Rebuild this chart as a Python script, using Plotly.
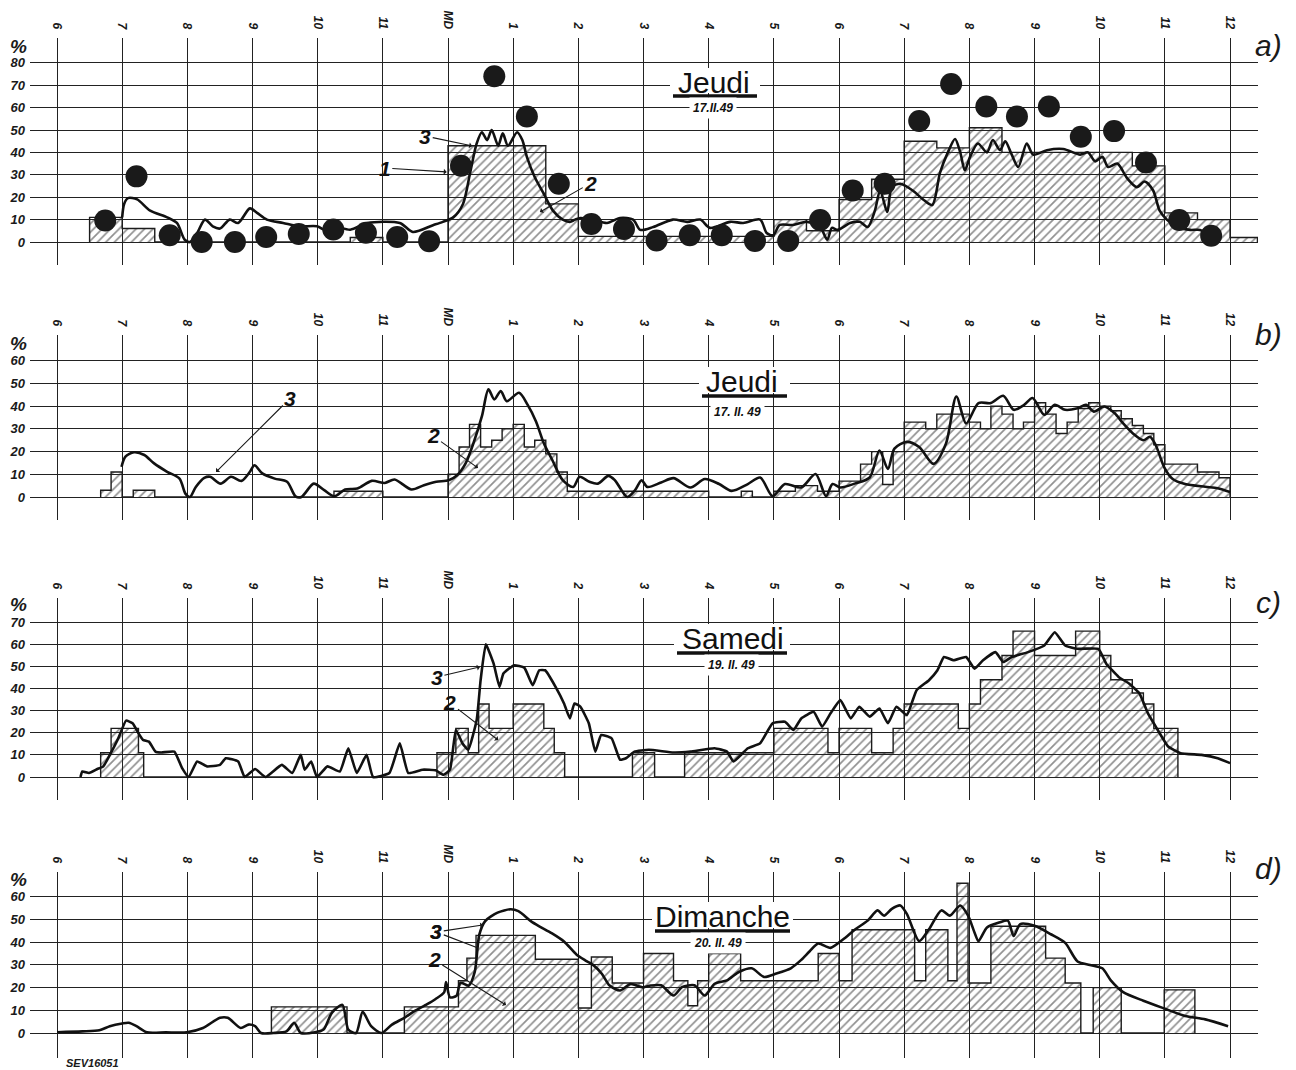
import plotly.graph_objects as go

# page body adds an 8px margin; the figure is sized/positioned to compensate
OFF = 8
W, H = 1296 - OFF, 1070 - OFF
SANS = "Liberation Sans, Arial, sans-serif"

# ---------------- shared axis data ----------------
HOURS = list(range(6, 25))
HOUR_LABELS = ["6", "7", "8", "9", "10", "11", "MD", "1", "2", "3", "4", "5",
               "6", "7", "8", "9", "10", "11", "12"]

# ---------------- panel a : Jeudi 17.II.49 ----------------
a_dot_t = [6.74, 7.22, 7.73, 8.22, 8.73, 9.21, 9.71, 10.24, 10.74, 11.22, 11.71,
           12.20, 12.71, 13.21, 13.70, 14.20, 14.70, 15.20, 15.71, 16.20, 16.71,
           17.22, 17.71, 18.21, 18.70, 19.23, 19.72, 20.26, 20.73, 21.22, 21.71,
           22.22, 22.71, 23.22, 23.71]
a_dot_v = [9.6, 29.3, 3, 0, 0, 2.2, 3.6, 5.6, 4.1, 2.2, 0.3,
           34, 74, 56, 26, 8, 5.8, 0.7, 3, 3, 0.5,
           0.5, 9.8, 23, 26, 54, 70.5, 60.5, 56, 60.5, 47,
           49.5, 35.5, 9.8, 2.8]

a_hist_edges = [6.5, 7.0, 7.5, 10.5, 11.0, 12.0, 13.5, 14.0, 17.0, 17.5, 18.0,
                18.5, 19.0, 19.5, 20.0, 20.5, 22.5, 23.0, 23.5, 24.0, 24.42]
a_hist_vals = [11, 6, 0, 2, 0, 43, 17, 2.5, 10, 5, 19,
               28, 45, 42, 51, 40, 34, 13, 10, 2]

a_curve_t = [7.00, 7.03, 7.09, 7.23, 7.43, 7.69, 7.84, 7.96, 8.04, 8.15, 8.27, 8.39,
             8.50, 8.65, 8.78, 8.96, 9.07, 9.22, 9.47, 9.73, 9.99, 10.14, 10.24,
             10.50, 10.76, 11.26, 11.46, 11.77, 11.92, 12.08, 12.23, 12.34, 12.44,
             12.52, 12.60, 12.67, 12.77, 12.84, 12.92, 13.06, 13.14, 13.21, 13.33,
             13.46, 13.61, 13.76, 13.87, 13.95, 14.03, 14.22, 14.44, 14.64, 14.84,
             14.95, 15.15, 15.45, 15.67, 15.87, 16.02, 16.33, 16.53, 16.79, 16.89,
             16.99, 17.09, 17.29, 17.51, 17.71, 17.82, 17.89, 17.98, 18.17, 18.32,
             18.44, 18.55, 18.63, 18.74, 18.81, 18.94, 19.13, 19.29, 19.43, 19.55,
             19.67, 19.78, 19.86, 19.93, 20.01, 20.13, 20.27, 20.36, 20.47, 20.55,
             20.65, 20.75, 20.88, 20.98, 21.19, 21.44, 21.70, 21.82, 21.93, 22.04,
             22.13, 22.27, 22.42, 22.57, 22.69, 22.82, 22.92, 23.03, 23.19, 23.39,
             23.54, 23.69, 23.85]
a_curve_v = [11, 17, 19.6, 19, 14, 11, 8.5, 1, 0, 4, 10, 7,
             6, 10, 8.5, 15, 13, 10, 8.5, 7, 7, 5, 7,
             5.5, 8.5, 8.5, 4.5, 7.5, 9, 11, 17, 31, 44,
             49, 45.5, 50, 43, 48.5, 43, 49, 45.5, 38, 29,
             22, 14, 10, 9, 10, 10.7, 10, 8.5, 10.7, 10,
             5.4, 6.7, 10, 9, 10, 6.3, 9, 8.5, 10, 4,
             3, 7.6, 7.6, 9, 6.7, 1, 6.3, 5.4, 8.5, 9,
             6.7, 14, 23, 13.4, 24.5, 26, 23, 19, 16.5, 31,
             40, 46, 40, 32, 38, 44, 40, 45.5, 41, 45,
             39, 33.5, 44, 39, 41, 41.5, 39, 40, 36, 38,
             33.5, 35, 28.5, 24.5, 27, 23, 14, 10, 6.7, 5.4,
             5.4, 3, 1.8]

# ---------------- panel b : Jeudi 17.II.49 ----------------
b_hist_edges = [6.67, 6.83, 7.0, 7.17, 7.5, 10.25, 11.0, 12.0, 12.17, 12.33, 12.5,
                12.67, 12.83, 13.0, 13.17, 13.33, 13.5, 13.67, 13.83, 16.0, 16.5,
                16.67, 17.0, 17.33, 17.67, 18.0, 18.33, 18.5, 18.67, 18.83, 19.0,
                19.33, 19.5, 20.0, 20.17, 20.33, 20.5, 20.67, 20.83, 21.0, 21.17,
                21.33, 21.5, 21.67, 21.83, 22.0, 22.17, 22.33, 22.5, 22.67, 22.83,
                23.0, 23.5, 23.83, 24.0]
b_hist_vals = [3, 11, 0, 3, 0, 2.5, 0, 10, 22, 32,
               22, 25, 30, 32, 22, 25, 19, 11, 2.5, 0,
               2.5, 0, 2.5, 5, 2.5, 7, 14.5, 20, 5.5, 20,
               33, 30, 36.5, 33, 30, 40, 36.5, 30, 33, 41.5,
               36.5, 28, 33, 39, 41.5, 40, 38, 34.5, 31.5, 28,
               23, 14.5, 11, 8.5]

b_curve_t = [6.99, 7.05, 7.18, 7.34, 7.49, 7.69, 7.88, 7.97, 8.04, 8.13, 8.26, 8.35,
             8.51, 8.67, 8.83, 8.96, 9.03, 9.15, 9.34, 9.53, 9.66, 9.75, 9.94, 10.10,
             10.26, 10.42, 10.61, 10.83, 11.03, 11.18, 11.44, 11.63, 11.82, 12.01,
             12.14, 12.27, 12.39, 12.52, 12.62, 12.71, 12.81, 12.90, 13.09, 13.22,
             13.35, 13.47, 13.60, 13.76, 13.92, 14.02, 14.17, 14.30, 14.46, 14.56,
             14.75, 14.87, 14.97, 15.06, 15.27, 15.46, 15.72, 15.94, 16.16, 16.35,
             16.60, 16.79, 16.98, 17.17, 17.42, 17.64, 17.80, 17.90, 18.02, 18.25,
             18.47, 18.62, 18.75, 18.85, 19.04, 19.23, 19.45, 19.64, 19.80, 19.95,
             20.14, 20.33, 20.52, 20.68, 20.84, 20.97, 21.15, 21.31, 21.47, 21.66,
             21.79, 21.91, 22.07, 22.23, 22.36, 22.51, 22.67, 22.77, 22.86, 22.99,
             23.12, 23.31, 23.62, 23.81, 24.00]
b_curve_v = [13.3, 17.8, 19.7, 18.5, 14.8, 11.1, 8.1, 1.5, 0, 4.4, 8.4, 8.9,
             5.9, 8.9, 7.1, 11.1, 14, 10.4, 8.1, 6.7, 0.3, 0, 5.9, 3,
             0.3, 3.3, 3.7, 7.1, 6.2, 7.7, 3.3, 5.2, 6.7, 7.4,
             9.6, 14.8, 23.7, 35.6, 47.4, 43, 46.7, 42.2, 45.9, 40.7,
             33.3, 23.7, 16.3, 7.4, 4.4, 8.9, 6.7, 5.9, 9.3, 7.4,
             0, 3, 7.4, 4.4, 6.4, 8.3, 4.2, 7.9, 5.7, 2.7,
             5.7, 8.6, 0.4, 5.7, 4.2, 10.1, 0.4, 5.7, 4.2, 6,
             8.6, 20.5, 12.4, 21.3, 24.3, 22, 14.6, 23.5, 44.3, 32.4,
             41.4, 41.4, 44.6, 38.4, 40.6, 43.6, 36.2, 40.6, 38.4, 39.1,
             40.6, 37.6, 39.9, 36.9, 32.4, 28, 25, 26.5, 22.8, 13.1,
             7.9, 5.7, 4.5, 3.9, 2.2]

# ---------------- panel c : Samedi 19.II.49 ----------------
c_hist_edges = [6.67, 6.83, 7.25, 7.33, 11.83, 12.12, 12.31, 12.47, 12.63, 13.0,
                13.47, 13.63, 13.79, 14.83, 15.17, 15.63, 17.0, 17.83, 18.0, 18.5,
                18.83, 19.0, 19.83, 20.0, 20.17, 20.5, 20.67, 21.0, 21.63, 22.0,
                22.17, 22.5, 22.67, 22.83, 23.2]
c_hist_vals = [11, 22, 11, 0, 11, 22, 11, 33, 22, 33,
               22, 11, 0, 11, 0, 11, 22, 11, 22, 11,
               22, 33, 22, 33, 44, 55, 66, 55, 66, 55,
               44, 38, 33, 22]

c_curve_t = [6.36, 6.39, 6.49, 6.62, 6.71, 6.81, 6.94, 7.06, 7.16, 7.25, 7.32, 7.41,
             7.51, 7.60, 7.80, 7.92, 8.02, 8.15, 8.30, 8.50, 8.59, 8.78, 8.88, 9.04,
             9.20, 9.45, 9.61, 9.74, 9.80, 9.90, 9.99, 10.15, 10.34, 10.47, 10.60,
             10.75, 10.85, 11.10, 11.26, 11.39, 11.61, 11.81, 11.93, 12.03, 12.12,
             12.22, 12.31, 12.44, 12.50, 12.58, 12.70, 12.79, 12.85, 13.01, 13.17,
             13.30, 13.40, 13.49, 13.65, 13.78, 13.87, 13.94, 14.03, 14.16, 14.26,
             14.35, 14.51, 14.64, 14.73, 14.86, 15.08, 15.46, 15.72, 16.09, 16.28,
             16.38, 16.60, 16.79, 16.98, 17.17, 17.30, 17.42, 17.61, 17.74, 17.87,
             18.02, 18.18, 18.31, 18.47, 18.62, 18.75, 18.88, 19.04, 19.19, 19.38,
             19.51, 19.61, 19.76, 19.95, 20.08, 20.21, 20.40, 20.52, 20.65, 20.90,
             21.15, 21.31, 21.47, 21.66, 21.98, 22.10, 22.29, 22.45, 22.61, 22.74,
             22.86, 23.05, 23.24, 23.56, 23.81, 24.00]
c_curve_v = [0, 2.5, 1.8, 3.6, 4.8, 10, 17.5, 25.5, 24.3, 19.8, 16.8, 16,
             11.5, 11.1, 11.5, 4, 0, 7, 4.8, 5.5, 8.5, 7, 0, 3.6,
             0, 5.5, 1.8, 10, 3.3, 7, 0, 4.8, 2.5, 13, 1.8,
             10, 0, 1.8, 15.3, 1.8, 3.3, 3, 1, 3.3, 21.3,
             15.3, 12.3, 25.8, 43.8, 60, 51.3, 40.8, 46.8, 50.5, 49.5,
             41.5, 48.3, 48.3, 40.8, 33.3, 26.5, 33.3, 31.8, 24.3, 11.5,
             19, 17.5, 7.8, 8.5, 11.5, 12.3, 11.1, 11.5, 13, 11.5,
             7, 13, 15.3, 24.3, 25, 21.3, 26.5, 29.5, 22.8, 28.8,
             34.8, 26.5, 31.8, 27.3, 31, 24.3, 31.8, 28, 39.3, 43.8,
             48.3, 54.3, 52.8, 54.3, 49, 52.8, 56.5, 52, 54.3, 56.5,
             59.5, 65.5, 59.5, 58, 58, 51.3, 45.3, 42.3, 37.8, 28.8,
             22.8, 13.8, 10.8, 10, 8.5, 6.3]

# ---------------- panel d : Dimanche 20.II.49 ----------------
d_hist_edges = [9.29, 10.45, 11.33, 12.16, 12.29, 12.43, 13.34, 14.0, 14.2, 14.52,
                15.0, 15.46, 15.68, 15.83, 16.0, 16.49, 17.68, 18.0, 18.2, 19.16,
                19.33, 19.67, 19.81, 19.98, 20.33, 21.17, 21.47, 21.71, 21.9, 22.33,
                22.99, 23.46]
d_hist_vals = [11.5, 0, 11.5, 23, 33, 43, 32.5, 11, 33.5, 22,
               35, 23, 12, 23, 35, 23, 35, 23, 45.5, 23,
               45.5, 23, 66, 22, 47, 33, 22, 0, 20, 0,
               19]

d_curve_t = [6.00, 6.39, 6.65, 6.81, 7.00, 7.10, 7.22, 7.38, 7.67, 7.99, 8.24, 8.50,
             8.62, 8.82, 8.94, 9.04, 9.13, 9.32, 9.52, 9.64, 9.74, 9.96, 10.09, 10.22,
             10.38, 10.47, 10.59, 10.69, 10.82, 10.98, 11.14, 11.33, 11.49, 11.68,
             11.81, 11.94, 11.97, 12.03, 12.13, 12.19, 12.32, 12.41, 12.48, 12.57,
             12.76, 12.96, 13.08, 13.27, 13.40, 13.59, 13.78, 13.97, 14.10, 14.23,
             14.36, 14.48, 14.64, 14.80, 14.99, 15.11, 15.27, 15.46, 15.59, 15.78,
             15.94, 16.09, 16.28, 16.47, 16.66, 16.85, 17.04, 17.26, 17.42, 17.55,
             17.68, 17.87, 18.06, 18.25, 18.44, 18.59, 18.69, 18.81, 18.94, 19.04,
             19.23, 19.38, 19.57, 19.70, 19.86, 19.98, 20.08, 20.14, 20.27, 20.46,
             20.59, 20.68, 20.78, 21.00, 21.25, 21.47, 21.66, 21.85, 22.04, 22.17,
             22.36, 22.67, 22.99, 23.31, 23.62, 23.97]
d_curve_v = [0.3, 0.7, 1.2, 3, 4.2, 4.5, 3, 0.3, 0.3, 0.3, 2.2, 6.7,
             6.7, 2.2, 3.7, 3, 0, 0, 0.7, 4.5, 0, 0.3, 1.5, 9,
             12.4, 1.5, 0, 9.3, 3, 0, 3.7, 6.7, 9.7, 12.7,
             15, 17.9, 22.4, 15.7, 16.4, 22.1, 20.9, 26.9, 43.3, 49.3,
             53, 54.5, 53.7, 49.3, 47, 44, 40.3, 34.6, 32.1, 29.9,
             26.1, 20.9, 18.7, 21.6, 20.1, 20.9, 21, 16.5, 20.2, 21,
             16.5, 21.7, 23.2, 27, 28.5, 24.7, 26.2, 28.5, 32.2, 36,
             39.4, 37.5, 41.2, 45.7, 49.5, 54, 51.7, 54.7, 56.2, 52.5,
             40.5, 45.7, 54, 51.7, 56.2, 51.7, 44.2, 40.5, 46.5, 48.7,
             49.5, 42.7, 48, 47.2, 43.5, 39.7, 31.5, 30, 28.5, 23.2,
             18, 14.2, 10.8, 7.5, 6, 3]

# ---------------- layout geometry (window pixels) ----------------
X_LEFT_PX, X_RIGHT_PX = 30, 1258
X6_PX, PX_PER_HOUR = 57, 65.17
X_RANGE = [6 + (X_LEFT_PX - X6_PX) / PX_PER_HOUR, 6 + (X_RIGHT_PX - X6_PX) / PX_PER_HOUR]

PANELS = [
    dict(top=38, bottom=265, zero=242, p10=22.4, ymax=80),
    dict(top=335, bottom=520, zero=497, p10=22.7, ymax=60),
    dict(top=598, bottom=800, zero=777, p10=22.1, ymax=70),
    dict(top=872, bottom=1058, zero=1033, p10=22.7, ymax=60),
]


def fx(xp):
    return (xp - OFF) / W


def fy(yp):
    return 1 - (yp - OFF) / H


def steps(edges, vals):
    xs, ys = [edges[0]], [0]
    for e, v in zip(edges[:-1], vals):
        xs.append(e)
        ys.append(v)
    xs += [edges[-1], edges[-1]]
    ys += [vals[-1], 0]
    return xs, ys


fig = go.Figure()

hists = [(a_hist_edges, a_hist_vals), (b_hist_edges, b_hist_vals),
         (c_hist_edges, c_hist_vals), (d_hist_edges, d_hist_vals)]
curves = [(a_curve_t, a_curve_v, 0.8), (b_curve_t, b_curve_v, 0.8),
          (c_curve_t, c_curve_v, 0.4), (d_curve_t, d_curve_v, 0.7)]

for i in range(4):
    sx = "x" if i == 0 else f"x{i+1}"
    sy = "y" if i == 0 else f"y{i+1}"
    hx, hy = steps(*hists[i])
    fig.add_trace(go.Scatter(
        x=hx, y=hy, xaxis=sx, yaxis=sy, mode="lines",
        line=dict(color="#1c1c1c", width=1.4, shape="hv"),
        fill="tozeroy", fillcolor="rgba(0,0,0,0)",
        fillpattern=dict(shape="/", fgcolor="#222222", bgcolor="rgba(0,0,0,0)",
                         size=6, solidity=0.28, fillmode="overlay"),
        showlegend=False, hoverinfo="skip"))
    ct, cv, sm = curves[i]
    fig.add_trace(go.Scatter(
        x=ct, y=cv, xaxis=sx, yaxis=sy, mode="lines",
        line=dict(color="#111111", width=2.6, shape="spline", smoothing=sm),
        showlegend=False, hoverinfo="skip"))
    if i == 0:
        fig.add_trace(go.Scatter(
            x=a_dot_t, y=a_dot_v, xaxis=sx, yaxis=sy, mode="markers",
            marker=dict(color="#1a1a1a", size=22, line=dict(width=0)),
            showlegend=False, hoverinfo="skip"))

layout = dict(
    width=W, height=H, margin=dict(l=0, r=0, t=0, b=0, autoexpand=False),
    paper_bgcolor="white", plot_bgcolor="white", showlegend=False,
)
tickfont_x = dict(family=SANS, size=12, color="#1a1a1a", style="italic", weight="bold")
tickfont_y = dict(family=SANS, size=13, color="#1a1a1a", style="italic", weight="bold")
for i, p in enumerate(PANELS):
    kx = "xaxis" if i == 0 else f"xaxis{i+1}"
    ky = "yaxis" if i == 0 else f"yaxis{i+1}"
    lo = -(p["bottom"] - p["zero"]) / p["p10"] * 10
    hi = (p["zero"] - p["top"]) / p["p10"] * 10
    layout[kx] = dict(
        domain=[fx(X_LEFT_PX), fx(X_RIGHT_PX)], range=X_RANGE,
        anchor="y" if i == 0 else f"y{i+1}", side="top",
        tickmode="array", tickvals=HOURS, ticktext=HOUR_LABELS, tickangle=90,
        showgrid=True, gridcolor="#222222", gridwidth=1.3, zeroline=False,
        showline=False, ticks="", tickfont=tickfont_x, ticklabelstandoff=6,
        automargin=False, fixedrange=True)
    layout[ky] = dict(
        domain=[fy(p["bottom"]), fy(p["top"])], range=[lo, hi],
        anchor="x" if i == 0 else f"x{i+1}",
        tickmode="array", tickvals=list(range(0, p["ymax"] + 1, 10)),
        showgrid=True, gridcolor="#222222", gridwidth=1.3, zeroline=False,
        showline=False, ticks="", tickfont=tickfont_y, ticklabelstandoff=4,
        automargin=False, fixedrange=True)
fig.update_layout(**layout)

ann = []
shapes = []


def text_at(xp, yp, text, font, **kw):
    d = dict(x=fx(xp), y=fy(yp), xref="paper", yref="paper", text=text,
             showarrow=False, xanchor="center", yanchor="middle", font=font)
    d.update(kw)
    ann.append(d)


# percent signs and panel letters
for (xp, yp) in [(18, 46), (18, 344), (18, 604), (18, 879)]:
    text_at(xp, yp, "%", dict(family=SANS, size=19, color="#1a1a1a", style="italic", weight="bold"))
for (xp, yp, t) in [(1268, 45, "a)"), (1268, 334, "b)"), (1268, 602, "c)"), (1268, 868, "d)")]:
    text_at(xp, yp, t, dict(family=SANS, size=30, color="#1a1a1a", style="italic"))

# titles: name, centre, underline (x0, x1, y), date, date centre
titles = [
    ("Jeudi", (714, 82), (673, 757, 96), "17.II.49", (713, 108)),
    ("Jeudi", (742, 381), (702, 787, 396), "17. II. 49", (737, 412)),
    ("Samedi", (733, 638), (677, 787, 653), "19. II. 49", (731, 665)),
    ("Dimanche", (722, 916), (655, 790, 931), "20. II. 49", (718, 943)),
]
for name, (tx, ty), (ux0, ux1, uy), date, (dx, dy) in titles:
    # white patch hiding the grid behind the title word
    shapes.append(dict(type="rect", xref="paper", yref="paper",
                       x0=fx(ux0 - 3), x1=fx(ux1 + 3), y0=fy(uy - 3), y1=fy(ty - 14),
                       fillcolor="white", line=dict(width=0), layer="above"))
    shapes.append(dict(type="line", xref="paper", yref="paper",
                       x0=fx(ux0), x1=fx(ux1), y0=fy(uy), y1=fy(uy),
                       line=dict(color="#111111", width=3.5), layer="above"))
    text_at(tx, ty, name, dict(family=SANS, size=30, color="#111111"))
    text_at(dx, dy, date, dict(family=SANS, size=12, color="#111111", style="italic", weight="bold"),
            bgcolor="white", borderpad=3)

# curve / histogram callouts (text position -> arrow head, in data units)
callouts = [
    (0, "3", 11.65, 47.3, 12.37, 42.9, 1),
    (0, "1", 11.03, 33.0, 11.98, 31.3, 1),
    (0, "2", 14.19, 26.3, 13.41, 13.4, 1),
    (1, "3", 9.58, 43.6, 8.44, 11.0, 1),
    (1, "2", 11.77, 26.9, 12.46, 12.8, 1),
    (2, "3", 11.83, 45.2, 12.49, 49.8, 1),
    (2, "2", 12.03, 33.5, 12.77, 16.7, 1),
    (3, "3", 11.82, 44.5, 12.54, 47.6, 1),
    (3, "3", 11.82, 44.5, 12.46, 37.4, 0),
    (3, "2", 11.79, 32.2, 12.89, 12.3, 1),
]
for i, t, tx, ty, hx, hy, head in callouts:
    sx = "x" if i == 0 else f"x{i+1}"
    sy = "y" if i == 0 else f"y{i+1}"
    ann.append(dict(x=hx, y=hy, xref=sx, yref=sy, ax=tx, ay=ty, axref=sx, ayref=sy,
                    text=t, showarrow=True, arrowhead=1 if head else 0, arrowsize=0.9,
                    arrowwidth=1.1, arrowcolor="#1a1a1a",
                    font=dict(family=SANS, size=21, color="#111111", style="italic", weight="bold")))

text_at(92, 1063, "SEV16051", dict(family=SANS, size=11, color="#1a1a1a", style="italic", weight="bold"))

fig.update_layout(annotations=ann, shapes=shapes)
fig.write_html("out.html")
